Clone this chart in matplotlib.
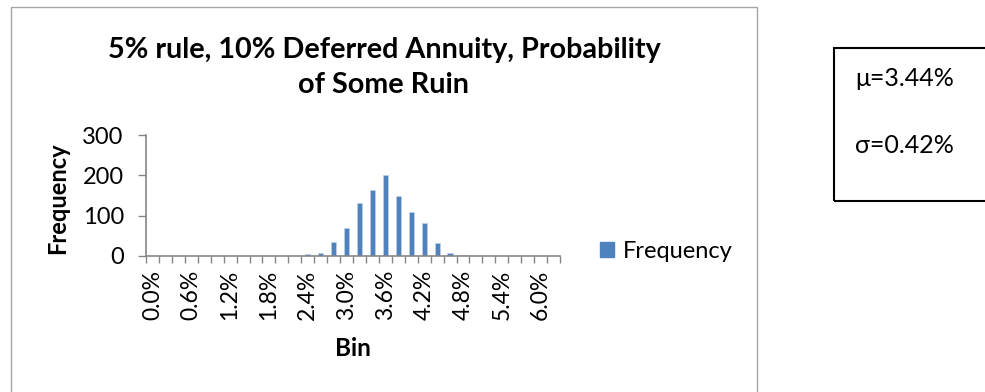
import matplotlib
matplotlib.use("Agg")
import matplotlib.pyplot as plt
from matplotlib.patches import Rectangle, Patch

# ---- data ----
bins = ["0.0%", "0.2%", "0.4%", "0.6%", "0.8%", "1.0%", "1.2%", "1.4%",
        "1.6%", "1.8%", "2.0%", "2.2%", "2.4%", "2.6%", "2.8%", "3.0%",
        "3.2%", "3.4%", "3.6%", "3.8%", "4.0%", "4.2%", "4.4%", "4.6%",
        "4.8%", "5.0%", "5.2%", "5.4%", "5.6%", "5.8%", "6.0%", "6.2%"]
frequency = [0, 0, 0, 0, 0, 0, 0, 0, 0, 0, 0, 0,
             5, 7, 34, 69, 132, 163, 202, 149, 108, 81, 31, 7, 2,
             0, 0, 0, 0, 0, 0, 0]
yticks = [0, 100, 200, 300]
title_lines = ["5% rule, 10% Deferred Annuity, Probability", "of Some Ruin"]
stats = ["\u03bc=3.44%", "\u03c3=0.42%"]

W, H = 985, 392
plt.rcParams['font.family'] = ['Lato', 'DejaVu Sans']
fig = plt.figure(figsize=(W / 100, H / 100), dpi=100)

def fx(x):
    return x / W

def fy(y):
    return 1 - y / H

BLUE = "#4F81BD"
GRAY = "#868686"

# chart border
fig.patches.append(Rectangle((fx(11), fy(395)), fx(757) - fx(11), fy(7) - fy(395),
                             transform=fig.transFigure, fill=False,
                             edgecolor="#A6A6A6", lw=1.0))

ax = fig.add_axes([fx(146), fy(256), fx(560) - fx(146), fy(135) - fy(256)])
x = list(range(len(bins)))
ax.bar(x, frequency, width=0.4, color=BLUE, edgecolor="#C6D6EA", linewidth=0.4)
ax.set_xlim(-0.5, len(bins) - 0.5)
ax.set_ylim(0, 300)
ax.set_yticks(yticks)
ax.set_xticks(x[::3])
ax.set_xticklabels(bins[::3], rotation=90)
ax.set_xticks([i - 0.5 for i in range(len(bins) + 1)], minor=True)
ax.tick_params(axis='x', which='major', length=0, labelsize=16.5, pad=10)
ax.tick_params(axis='x', which='minor', length=5, width=1, color=GRAY, direction='out')
ax.tick_params(axis='y', length=6, width=1, color=GRAY, labelsize=17, pad=10)
for s in ['top', 'right']:
    ax.spines[s].set_visible(False)
for s in ['left', 'bottom']:
    ax.spines[s].set_color(GRAY)
    ax.spines[s].set_linewidth(1.2)

fig.text(fx(58), fy(198), "Frequency", rotation=90, ha='center', va='center',
         fontsize=17, fontweight='bold')
fig.text(fx(353), fy(349), "Bin", ha='center', va='center', fontsize=17.5,
         fontweight='bold')

fig.text(fx(384), fy(58), title_lines[0], ha='center', va='baseline',
         fontsize=20.7, fontweight='bold')
fig.text(fx(384), fy(93), title_lines[1], ha='center', va='baseline',
         fontsize=20.7, fontweight='bold')

fig.legend(handles=[Patch(facecolor=BLUE, edgecolor=BLUE, label="Frequency")],
           loc='center left', bbox_to_anchor=(fx(600), fy(251)), frameon=False,
           fontsize=17, handlelength=0.6, handleheight=0.6, borderpad=0,
           borderaxespad=0, handletextpad=0.35)

# stats box
fig.patches.append(Rectangle((fx(834), fy(201)), fx(995) - fx(834), fy(48) - fy(201),
                             transform=fig.transFigure, fill=False,
                             edgecolor="black", lw=1.5))
fig.text(fx(855), fy(78), stats[0], ha='left', va='center', fontsize=18)
fig.text(fx(855), fy(145), stats[1], ha='left', va='center', fontsize=18)

fig.savefig("out.png", dpi=100)
